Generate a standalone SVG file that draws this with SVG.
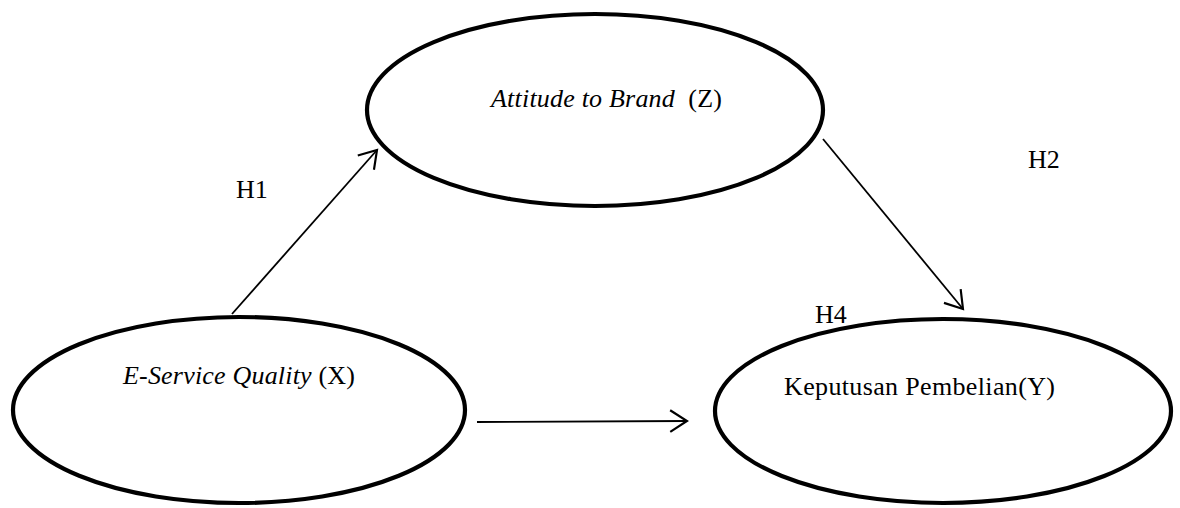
<svg xmlns="http://www.w3.org/2000/svg" width="1180" height="508" viewBox="0 0 1180 508">
<style>
.node{fill:#fff;stroke:#000;stroke-width:4.2}
.t{font-family:"Liberation Serif","Times New Roman",serif;font-size:26px;fill:#000;white-space:pre}
.i{font-style:italic}
.c{fill:none;stroke:#000;stroke-width:1.8}
</style>
<defs>
<marker id="arr" markerUnits="userSpaceOnUse" markerWidth="24" markerHeight="24" refX="16" refY="10" orient="auto" viewBox="0 0 20 20">
<path d="M2,1 L16,10 L2,19" fill="none" stroke="#000" stroke-width="1.8"/>
</marker>
</defs>
<rect width="1180" height="508" fill="#fff"/>
<g id="node-z">
<ellipse class="node" cx="595" cy="110" rx="228" ry="96"/>
<text class="t" x="491" y="107" xml:space="preserve" textLength="231"><tspan class="i">Attitude to Brand</tspan>  (Z)</text>
</g>
<g id="node-x">
<ellipse class="node" cx="239" cy="410" rx="226" ry="93"/>
<text class="t" x="123" y="384" xml:space="preserve" textLength="232"><tspan class="i">E-Service Quality</tspan> (X)</text>
</g>
<g id="node-y">
<ellipse class="node" cx="943" cy="411" rx="228" ry="92"/>
<text class="t" x="784" y="395" textLength="271">Keputusan Pembelian(Y)</text>
</g>
<g id="connectors">
<line class="c" x1="232" y1="314" x2="377" y2="150" marker-end="url(#arr)"/>
<line class="c" x1="823" y1="139" x2="963" y2="309" marker-end="url(#arr)"/>
<line class="c" x1="477" y1="422" x2="687" y2="421" marker-end="url(#arr)"/>
</g>
<g id="labels">
<text class="t" x="236" y="198">H1</text>
<text class="t" x="1028" y="168">H2</text>
<text class="t" x="815" y="323">H4</text>
</g>
</svg>
